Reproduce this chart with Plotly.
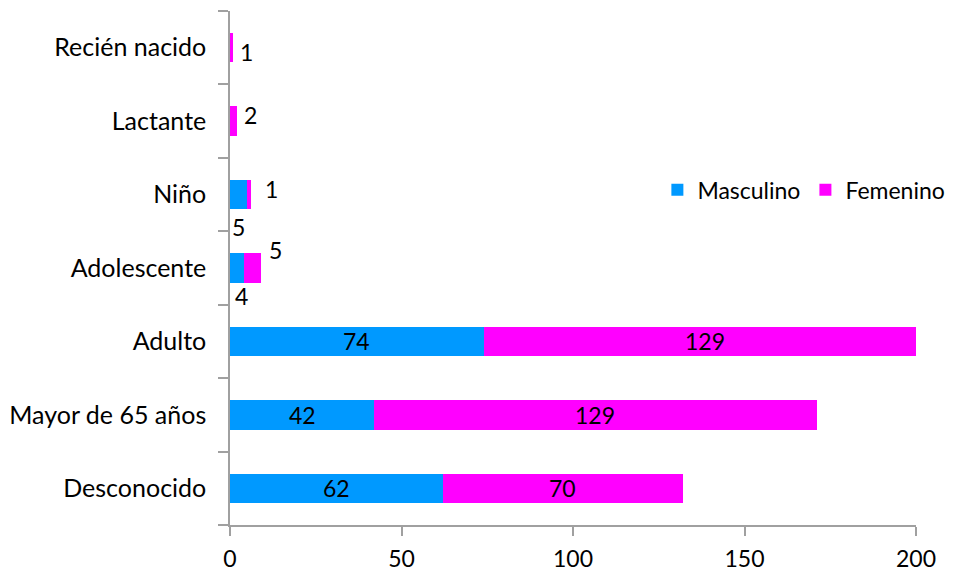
import plotly.graph_objects as go

# Age groups, listed top to bottom as they appear on the chart
categorias = ["Recién nacido", "Lactante", "Niño", "Adolescente",
              "Adulto", "Mayor de 65 años", "Desconocido"]
masculino = [0, 0, 5, 4, 74, 42, 62]
femenino = [1, 2, 1, 5, 129, 129, 70]

AZUL = "#0099FF"
MAGENTA = "#FF00FF"
FUENTE = "Lato"
TAM = 23

fig = go.Figure()
fig.add_trace(go.Bar(y=categorias, x=masculino, name="Masculino", orientation="h",
                     marker=dict(color=AZUL, line=dict(width=0))))
fig.add_trace(go.Bar(y=categorias, x=femenino, name="Femenino", orientation="h",
                     marker=dict(color=MAGENTA, line=dict(width=0))))

# Data labels: large segments centred inside, small ones nudged outside the bar
desplaz = {
    # (categoria, serie): (xshift, yshift) in px relative to bar end
    ("Recién nacido", "F"): (13, -4),
    ("Lactante", "F"): (14, 6),
    ("Niño", "F"): (21, 6),
    ("Niño", "M"): (-9, -32),
    ("Adolescente", "F"): (15, 18),
    ("Adolescente", "M"): (-2, -28),
}
anots = []
for cat, m, f in zip(categorias, masculino, femenino):
    for serie, base, v in (("M", 0, m), ("F", m, f)):
        if v == 0:
            continue
        if (cat, serie) in desplaz:
            dx, dy = desplaz[(cat, serie)]
            x = base + v
        else:
            dx, dy = 0, 0
            x = base + v / 2
        anots.append(dict(x=x, y=cat, xref="x", yref="y", text=str(v),
                          showarrow=False, xshift=dx, yshift=dy,
                          font=dict(family=FUENTE, size=TAM, color="black")))

fig.update_layout(
    barmode="stack",
    bargap=0.6,
    width=953, height=571,
    margin=dict(l=230, r=37, t=11, b=46, autoexpand=False),
    paper_bgcolor="white", plot_bgcolor="white",
    font=dict(family=FUENTE, size=TAM, color="black"),
    showlegend=True,
    legend=dict(orientation="h", traceorder="normal",
                x=0.623, y=0.652, xanchor="left", yanchor="middle",
                font=dict(family=FUENTE, size=23, color="black"),
                itemwidth=30, tracegroupgap=0, bgcolor="rgba(0,0,0,0)"),
    annotations=anots,
)
fig.update_xaxes(range=[0, 200], tickvals=[0, 50, 100, 150, 200],
                 automargin=False,
                 showgrid=False, zeroline=False,
                 showline=True, linecolor="#A0A0A0", linewidth=1.5,
                 ticks="outside", ticklen=9, tickcolor="#A0A0A0", tickwidth=1.5,
                 ticklabelstandoff=4,
                 tickfont=dict(family=FUENTE, size=TAM, color="black"))
fig.update_yaxes(categoryorder="array", categoryarray=categorias[::-1],
                 automargin=False,
                 showgrid=False, zeroline=False,
                 showline=True, linecolor="#A0A0A0", linewidth=1.5,
                 ticks="outside", ticklen=10, tickcolor="#A0A0A0", tickwidth=1.5,
                 tickson="boundaries", ticklabelstandoff=17,
                 tickfont=dict(family=FUENTE, size=25, color="black"))

fig.write_html("out.html")
